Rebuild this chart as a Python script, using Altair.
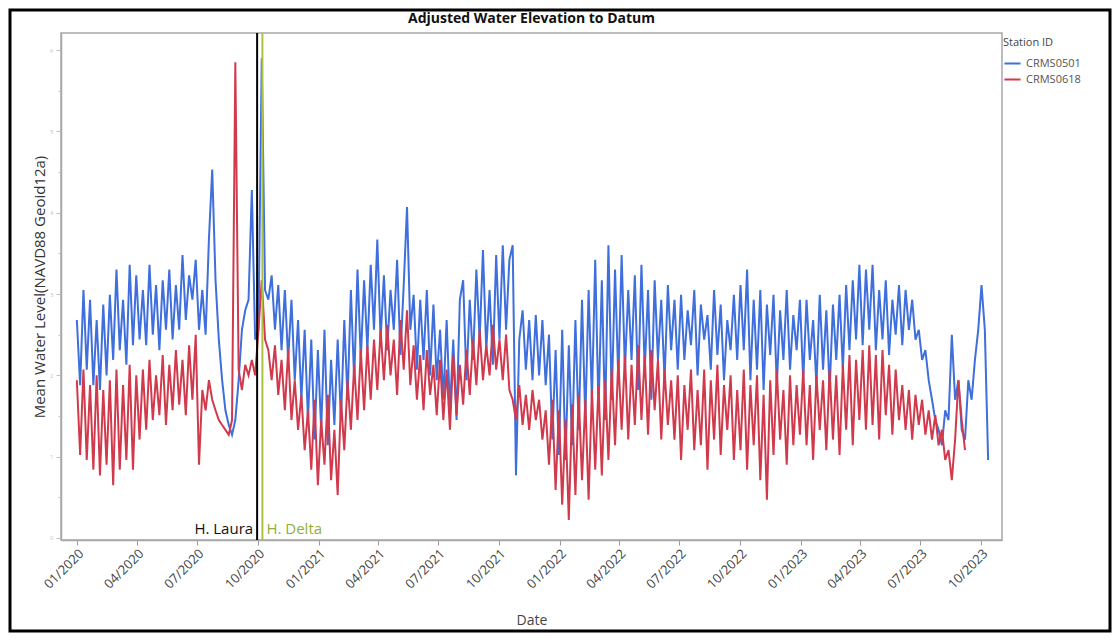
import altair as alt
import pandas as pd

# ---- data (5-day steps starting 2020-01-01) ----
start_date = "2020-01-01"
blue_vals = [
    2.68, 1.88, 3.05, 2.07, 2.93, 1.88, 2.68, 1.82, 2.87, 2.00,
    2.99, 2.19, 3.30, 2.31, 2.93, 2.13, 3.36, 2.37, 3.23, 2.44,
    3.05, 2.37, 3.36, 2.50, 3.11, 2.31, 3.17, 2.56, 3.30, 2.44,
    3.11, 2.56, 3.48, 2.68, 3.23, 2.93, 3.42, 2.56, 3.05, 2.50,
    3.67, 4.53, 3.17, 2.44, 1.94, 1.57, 1.39, 1.27, 1.45, 1.94,
    2.56, 2.80, 2.93, 4.28, 2.44, 2.56, 5.90, 3.05, 2.93, 3.23,
    2.56, 3.11, 2.31, 3.05, 2.19, 2.93, 1.94, 2.68, 1.70, 2.56,
    1.45, 2.44, 1.21, 2.31, 1.33, 2.56, 1.14, 2.19, 1.39, 2.44,
    1.45, 2.68, 1.70, 3.05, 1.94, 3.30, 2.19, 3.17, 2.31, 3.36,
    2.56, 3.67, 2.44, 3.23, 2.31, 3.05, 2.56, 3.42, 2.25, 3.11,
    4.07, 2.56, 2.99, 2.07, 2.93, 2.19, 3.05, 2.00, 2.87, 1.94,
    2.56, 1.70, 2.68, 1.57, 2.44, 1.45, 2.93, 3.17, 1.94, 2.93,
    2.19, 3.30, 2.44, 3.54, 2.31, 3.05, 2.13, 3.48, 2.44, 3.60,
    2.56, 3.42, 3.60, 0.77, 2.44, 2.80, 2.07, 2.68, 1.94, 2.74,
    2.00, 2.68, 1.88, 2.50, 1.21, 2.31, 1.02, 2.56, 0.96, 2.37,
    1.14, 2.68, 1.33, 2.93, 1.45, 3.05, 1.70, 3.42, 1.57, 3.17,
    1.45, 3.60, 1.70, 3.30, 1.94, 3.48, 2.07, 3.05, 2.19, 3.23,
    1.82, 3.36, 2.07, 3.05, 1.70, 3.17, 2.19, 2.93, 1.94, 3.11,
    2.31, 2.93, 2.07, 2.99, 2.19, 2.80, 2.37, 3.05, 2.00, 2.87,
    2.44, 2.74, 2.07, 3.05, 2.25, 2.87, 1.94, 2.68, 2.31, 2.99,
    2.19, 3.11, 2.31, 3.30, 1.94, 2.93, 2.07, 3.05, 1.82, 2.87,
    2.25, 2.99, 1.88, 2.80, 2.19, 3.05, 2.07, 2.74, 2.31, 2.93,
    1.94, 2.93, 2.19, 2.68, 1.88, 2.99, 2.07, 2.80, 1.82, 2.87,
    2.19, 2.99, 2.07, 3.11, 2.31, 3.17, 2.44, 3.36, 2.37, 3.30,
    2.56, 3.36, 2.31, 3.05, 2.44, 3.17, 2.25, 2.93, 2.50, 3.11,
    2.37, 3.05, 2.56, 2.93, 2.44, 2.56, 2.19, 2.31, 1.94, 1.70,
    1.45, 1.33, 1.14, 1.57, 1.45, 2.50, 1.70, 1.94, 1.33, 1.21,
    1.94, 1.70, 2.19, 2.56, 3.11, 2.56, 0.96,
]
red_vals = [
    1.94, 1.02, 2.07, 0.96, 1.88, 0.84, 2.00, 0.77, 1.82, 0.90,
    1.94, 0.65, 2.07, 0.84, 1.88, 0.96, 2.13, 0.84, 2.00, 1.21,
    2.07, 1.33, 2.19, 1.45, 2.00, 1.51, 2.25, 1.39, 2.13, 1.57,
    2.31, 1.64, 2.19, 1.51, 2.37, 1.70, 2.50, 0.90, 1.82, 1.57,
    1.94, 1.70, 1.57, 1.45, 1.39, 1.33, 1.27, 1.45, 5.85, 2.07,
    1.82, 2.13, 2.00, 2.19, 2.00, 2.56, 3.17, 2.44, 2.31, 1.94,
    2.37, 1.76, 2.19, 1.57, 2.31, 1.45, 1.94, 1.33, 1.76, 1.08,
    1.57, 0.84, 1.70, 0.65, 1.45, 0.90, 1.76, 0.71, 1.33, 0.53,
    1.70, 1.08, 1.94, 1.33, 2.13, 1.45, 2.31, 1.57, 2.37, 1.70,
    2.44, 1.82, 2.56, 1.94, 2.62, 2.00, 2.44, 1.76, 2.68, 2.07,
    2.80, 1.88, 2.37, 1.70, 2.25, 1.57, 2.31, 1.76, 2.13, 1.51,
    2.19, 1.45, 2.07, 1.33, 2.25, 1.51, 2.13, 1.64, 2.31, 1.76,
    2.44, 1.88, 2.56, 1.94, 2.37, 2.00, 2.62, 2.07, 2.44, 1.94,
    2.50, 1.82, 1.70, 1.45, 1.88, 1.39, 1.76, 1.33, 1.82, 1.45,
    1.70, 1.21, 1.57, 0.90, 1.70, 0.59, 1.57, 0.41, 1.45, 0.22,
    1.64, 0.53, 1.76, 0.71, 1.70, 0.47, 1.82, 0.84, 1.88, 0.77,
    1.94, 0.96, 2.07, 1.14, 2.19, 1.33, 2.25, 1.21, 2.13, 1.39,
    2.37, 1.45, 2.25, 1.27, 2.31, 1.57, 2.19, 1.21, 2.07, 1.39,
    1.94, 1.21, 2.00, 0.96, 1.88, 1.33, 2.07, 1.08, 1.82, 1.14,
    2.07, 0.84, 1.94, 1.21, 2.13, 1.02, 1.88, 1.33, 2.00, 0.96,
    1.82, 1.08, 2.07, 0.84, 1.88, 1.14, 2.00, 0.71, 1.76, 0.47,
    1.94, 1.02, 2.07, 1.21, 1.82, 0.90, 2.00, 1.14, 1.88, 1.27,
    2.07, 1.14, 1.88, 0.96, 2.00, 1.33, 1.94, 1.08, 2.07, 1.21,
    2.00, 1.02, 2.13, 1.33, 2.25, 1.14, 2.19, 1.45, 2.31, 1.33,
    2.37, 1.39, 2.25, 1.21, 2.31, 1.51, 2.13, 1.27, 2.07, 1.45,
    1.88, 1.33, 1.82, 1.21, 1.76, 1.39, 1.70, 1.27, 1.57, 1.21,
    1.51, 1.14, 1.33, 0.96, 1.08, 0.71, 1.21, 1.94, 1.45, 1.08,
]
stations = ["CRMS0501", "CRMS0618"]
station_colors = ["#3f6fdc", "#d03a4c"]

hurricane_names = ["H. Laura", "H. Delta"]
hurricane_dates = ["2020-09-30", "2020-10-08"]
hurricane_colors = ["#000000", "#a9c23f"]
hurricane_text_colors = ["#111111", "#8fae3a"]
hurricane_label_y = [0.05, 0.05]

chart_title = ["Adjusted Water Elevation to Datum"]

quarter_ticks = [(y, m) for y in range(2020, 2024) for m in (1, 4, 7, 10)]
y_ticks = [i * 0.5 for i in range(13)]

# ---- tables ----
blue_df = pd.DataFrame({
    "Date": pd.date_range(start_date, periods=len(blue_vals), freq="5D"),
    "Level": blue_vals, "Station": stations[0]})
red_df = pd.DataFrame({
    "Date": pd.date_range(start_date, periods=len(red_vals), freq="5D"),
    "Level": red_vals, "Station": stations[1]})
df = pd.concat([blue_df, red_df], ignore_index=True)

hur_df = pd.DataFrame({
    "name": hurricane_names,
    "Date": pd.to_datetime(hurricane_dates),
    "lc": hurricane_colors,
    "tc": hurricane_text_colors,
    "ly": hurricane_label_y,
})

FONT = "Open Sans"
W, H = 941, 507

x_scale = alt.Scale(domain=[alt.DateTime(year=2019, month=12, date=8),
                            alt.DateTime(year=2023, month=11, date=2)], nice=False)
y_scale = alt.Scale(domain=[-0.025, 6.21], nice=False, zero=False)

x_axis = alt.Axis(
    values=[alt.DateTime(year=y, month=m, date=1) for y, m in quarter_ticks],
    format="%m/%Y", labelAngle=-45, labelAlign="right", labelBaseline="top",
    labelFontSize=13, labelColor="#444444", labelFont=FONT, labelPadding=2,
    tickSize=5, tickColor="#9a9a9a", domainColor="#a8a8a8", domainWidth=1.5,
    grid=False, title="Date", titleFont=FONT, titleFontSize=14,
    titleFontWeight="normal", titleColor="#444444", titleY=73,
    labelOverlap=False,
)
y_axis = alt.Axis(
    values=y_ticks, format=".0f",
    labelExpr="datum.value % 1 === 0 ? datum.label : ''",
    labelFontSize=6, labelColor="#c4c4c4", labelFont=FONT, labelPadding=3,
    tickSize={"condition": {"test": "datum.value % 1 === 0", "value": 5}, "value": 3},
    tickColor="#c0c0c0", domainColor="#a8a8a8", domainWidth=1.5, grid=False,
    title="Mean Water Level(NAVD88 Geoid12a)", titleFont=FONT, titleFontSize=15,
    titleFontWeight="normal", titleColor="#333333", titleX=-22, titleY=H / 2,
    titleAngle=-90, titleAlign="center", titleBaseline="middle",
)

lines = alt.Chart(df).mark_line(strokeWidth=2, clip=True).encode(
    x=alt.X("Date:T", scale=x_scale, axis=x_axis),
    y=alt.Y("Level:Q", scale=y_scale, axis=y_axis),
    color=alt.Color("Station:N", scale=alt.Scale(domain=stations, range=station_colors),
                    legend=alt.Legend(title="Station ID")),
)

rules = alt.Chart(hur_df).mark_rule(strokeWidth=2).encode(
    x="Date:T",
    stroke=alt.Stroke("lc:N", scale=None),
)

laura_text = alt.Chart(hur_df).transform_filter(
    alt.datum.name == hurricane_names[0]
).mark_text(align="right", baseline="alphabetic", dx=-4, fontSize=15, font=FONT).encode(
    x="Date:T", y="ly:Q", text="name:N", fill=alt.Fill("tc:N", scale=None))

delta_text = alt.Chart(hur_df).transform_filter(
    alt.datum.name == hurricane_names[1]
).mark_text(align="left", baseline="alphabetic", dx=4, fontSize=15, font=FONT).encode(
    x="Date:T", y="ly:Q", text="name:N", fill=alt.Fill("tc:N", scale=None))

title_text = alt.Chart(pd.DataFrame({"t": chart_title})).mark_text(
    align="center", baseline="alphabetic", fontSize=14, fontWeight="bold",
    font=FONT, color="#111111"
).encode(x=alt.value(W / 2), y=alt.value(-10), text="t:N")

border = alt.Chart(pd.DataFrame({"k": [0]})).mark_rect(
    filled=False, stroke="#000000", strokeWidth=3
).encode(x=alt.value(-51), x2=alt.value(W + 108), y=alt.value(-23), y2=alt.value(H + 91))

chart = alt.layer(lines, rules, laura_text, delta_text, title_text, border).properties(
    width=W, height=H,
    autosize=alt.AutoSizeParams(type="none"),
    padding={"left": 53, "top": 25, "right": 110, "bottom": 93},
).configure_view(
    stroke="#a8a8a8", strokeWidth=1.5,
).configure_legend(
    orient="none", legendX=942, legendY=4,
    titleFont=FONT, titleFontSize=11, titleFontWeight="normal", titleColor="#444444",
    labelFont=FONT, labelFontSize=11, labelColor="#555555",
    symbolType="stroke", symbolStrokeWidth=2, symbolSize=260, rowPadding=1,
    titlePadding=6,
)

chart.save("out.html", embed_options={"renderer": "svg", "actions": False})
